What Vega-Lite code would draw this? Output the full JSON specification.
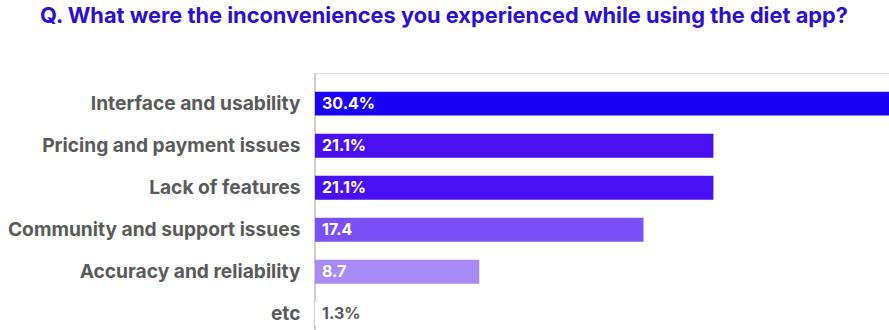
{
  "$schema": "https://vega.github.io/schema/vega-lite/v6.json",
  "width": 574,
  "height": 257,
  "autosize": {"type": "none"},
  "padding": {"left": 315, "top": 73, "right": 0, "bottom": 0},
  "background": "white",
  "title": {
    "text": "Q. What were the inconveniences you experienced while using the diet app?",
    "font": "Inter",
    "fontSize": 21.8,
    "fontWeight": 700,
    "color": "#2a10d0",
    "anchor": "middle",
    "frame": "group",
    "dx": -158,
    "offset": 35,
    "baseline": "middle"
  },
  "data": {
    "values": [
      {"issue": "Interface and usability", "value": 30.4, "label": "30.4%"},
      {"issue": "Pricing and payment issues", "value": 21.1, "label": "21.1%"},
      {"issue": "Lack of features", "value": 21.1, "label": "21.1%"},
      {"issue": "Community and support issues", "value": 17.4, "label": "17.4"},
      {"issue": "Accuracy and reliability", "value": 8.7, "label": "8.7"},
      {"issue": "etc", "value": 1.3, "label": "1.3%"}
    ]
  },
  "layer": [
    {
      "mark": {"type": "rule", "color": "#cfcfcf", "strokeWidth": 1},
      "encoding": {
        "x": {"datum": 0, "type": "quantitative", "scale": {"domain": [0, 30.4], "nice": false}, "axis": null}
      }
    },
    {
      "mark": {"type": "bar"},
      "encoding": {
        "y": {
          "field": "issue",
          "type": "nominal",
          "sort": null,
          "scale": {"paddingInner": 0.43, "paddingOuter": 0.27, "align": 0.82},
          "axis": {
            "title": null,
            "ticks": false,
            "domain": false,
            "labelFont": "Inter",
            "labelFontSize": 19.2,
            "labelFontWeight": 700,
            "labelColor": "#5a5a5a",
            "labelPadding": 15,
            "labelLimit": 320
          }
        },
        "x": {
          "field": "value",
          "type": "quantitative",
          "scale": {"domain": [0, 30.4], "nice": false},
          "axis": null
        },
        "color": {
          "field": "issue",
          "type": "nominal",
          "legend": null,
          "scale": {
            "domain": ["Interface and usability", "Pricing and payment issues", "Lack of features", "Community and support issues", "Accuracy and reliability", "etc"],
            "range": ["#1a00f5", "#4a10f4", "#4a10f4", "#7b50f6", "#a78cf9", "#ffffff"]
          }
        }
      }
    },
    {
      "mark": {"type": "text", "align": "left", "baseline": "middle", "dx": 7, "font": "Inter", "fontSize": 16, "fontWeight": 700},
      "encoding": {
        "y": {"field": "issue", "type": "nominal", "sort": null},
        "x": {"datum": 0, "type": "quantitative"},
        "text": {"field": "label"},
        "color": {
          "condition": {"test": "datum.issue === 'etc'", "value": "#5a5a5a"},
          "value": "#ffffff"
        }
      }
    }
  ]
}
